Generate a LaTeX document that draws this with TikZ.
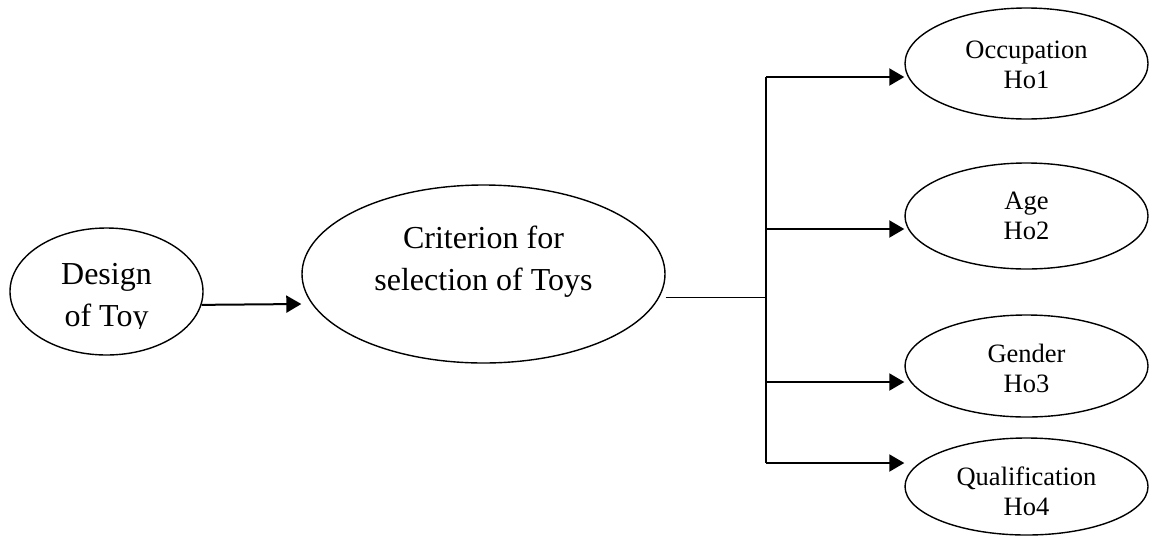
\documentclass[tikz,border=0pt]{standalone}
\usepackage{fontspec}
\setmainfont{Liberation Serif}
\usepackage{tikz}
\usetikzlibrary{arrows.meta}
\usetikzlibrary{shapes,arrows}
\tikzstyle{arrow} = [line width=1pt,-{Triangle[length=7.5pt,width=8.5pt]}]
\tikzstyle{oval} = [ellipse, draw, line width=0.7pt, inner sep=0pt]
\tikzstyle{bigtext} = [font=\fontsize{16}{21}\selectfont, align=center, inner sep=0pt]
\tikzstyle{smalloval} = [oval, minimum width=121.5pt, font=\fontsize{13.25}{15}\selectfont, align=center]

\begin{document}
\begin{tikzpicture}[x=0.5pt, y=-0.5pt]
            \useasboundingbox (0,0) rectangle (1149,536);

            % left side
            \node[oval, minimum width=96.5pt, minimum height=63.5pt] (design) at (106.5,291.5) {};
            \begin{scope}
                \clip (0,200) rectangle (300,328);
                \node[bigtext] (design text) at (106.5,298.5) {Design\\of Toy};
            \end{scope}
            \node[oval, minimum width=181.5pt, minimum height=89pt] (criterion) at (483.5,274) {};
            \node[bigtext] (criterion text) at (483.5,262) {Criterion for\\selection of Toys};

            % hypotheses
            \node[smalloval, minimum height=55.5pt, text height=25.5pt] (occupation) at (1026.5,63.5) {Occupation\\Ho1};
            \node[smalloval, minimum height=53pt] (age) at (1026.5,216) {Age\\Ho2};
            \node[smalloval, minimum height=51pt, text height=27pt] (gender) at (1026.5,366) {Gender\\Ho3};
            \node[smalloval, minimum height=48.5pt, text height=29.5pt] (qualification) at (1026.5,486.5) {Qualification\\Ho4};

            \coordinate (hub) at (766,297);
            \coordinate (b1) at (766,77);
            \coordinate (b2) at (766,229);
            \coordinate (b3) at (766,382);
            \coordinate (b4) at (766,463);

            \draw[arrow] (design.-8) -- ([yshift=-15pt]criterion.west);
            \draw[line width=0.5pt] (hub -| criterion.east) -- (hub);
            \draw[line width=1pt] (b1) -- (b4);

            \draw[arrow] (b1) -- (b1 -| occupation.west);
            \draw[arrow] (b2) -- (b2 -| age.west);
            \draw[arrow] (b3) -- (b3 -| gender.west);
            \draw[arrow] (b4) -- (b4 -| qualification.west);

        \end{tikzpicture}
\end{document}
